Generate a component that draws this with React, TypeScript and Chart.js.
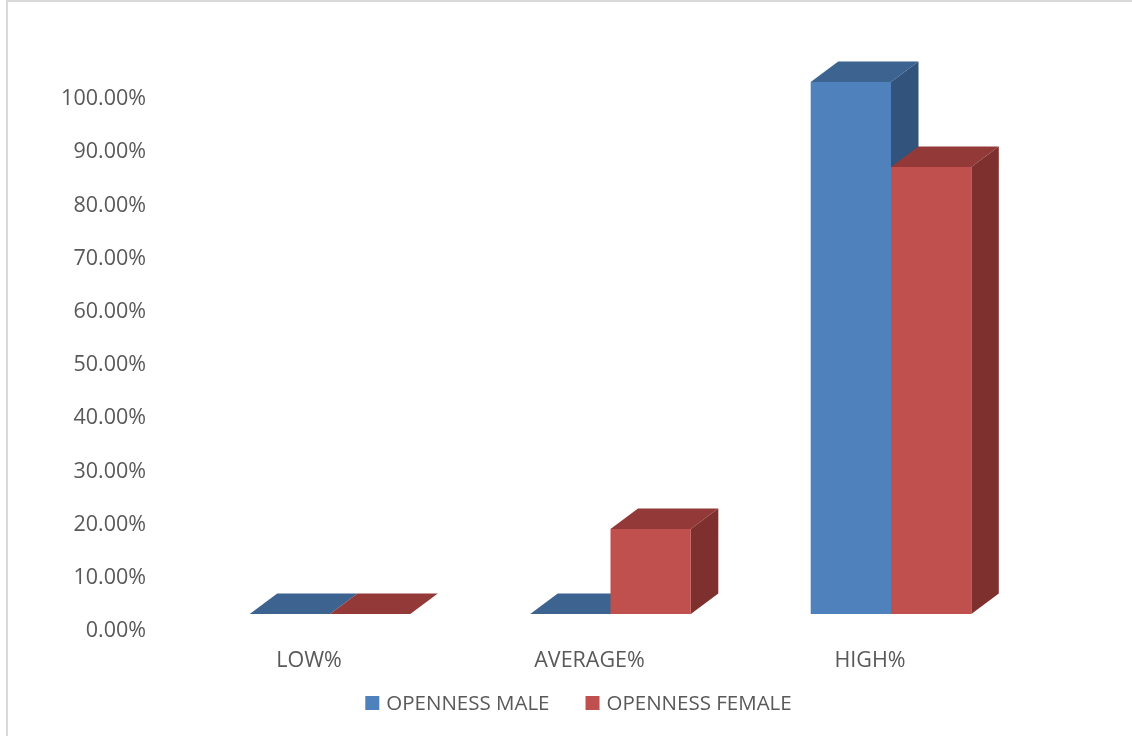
import React, { useEffect, useRef } from 'react';
import { Chart, registerables } from 'chart.js';

Chart.register(...registerables);

// Categories and series values (percent)
const categories = ['LOW%', 'AVERAGE%', 'HIGH%'];
const opennessMale = [0, 0, 100];
const opennessFemale = [0, 16, 84];
const seriesNames = ['OPENNESS MALE', 'OPENNESS FEMALE'];
const yTickValues = [0, 10, 20, 30, 40, 50, 60, 70, 80, 90, 100];

// Front / top / side shades of each series
const maleShades = { front: '#4F81BD', top: '#3D6391', side: '#32537C' };
const femaleShades = { front: '#C0504D', top: '#933937', side: '#7D302E' };

const FONT = "'Open Sans', sans-serif";
const TEXT = '#595959';

// Paints the top and right faces of each column behind the front faces
const depthPlugin = {
  id: 'depth3d',
  beforeDatasetsDraw(chart: any, _args: any, opts: any) {
    const ctx = chart.ctx;
    const dx = opts.dx;
    const dy = opts.dy;
    ctx.save();
    chart.data.datasets.forEach((ds: any, di: number) => {
      const meta = chart.getDatasetMeta(di);
      meta.data.forEach((bar: any) => {
        const l = bar.x - bar.width / 2;
        const r = bar.x + bar.width / 2;
        const t = bar.y;
        const b = bar.base;
        // top face
        ctx.fillStyle = ds.topColor;
        ctx.beginPath();
        ctx.moveTo(l, t);
        ctx.lineTo(l + dx, t + dy);
        ctx.lineTo(r + dx, t + dy);
        ctx.lineTo(r, t);
        ctx.closePath();
        ctx.fill();
        // right face
        if (b - t > 0.5) {
          ctx.fillStyle = ds.sideColor;
          ctx.beginPath();
          ctx.moveTo(r, t);
          ctx.lineTo(r + dx, t + dy);
          ctx.lineTo(r + dx, b + dy);
          ctx.lineTo(r, b);
          ctx.closePath();
          ctx.fill();
        }
      });
    });
    ctx.restore();
  },
};

// Outer frame of the chart
const framePlugin = {
  id: 'frame',
  beforeDraw(chart: any) {
    const ctx = chart.ctx;
    ctx.save();
    ctx.fillStyle = '#FFFFFF';
    ctx.fillRect(0, 0, chart.width, chart.height);
    ctx.fillStyle = '#D9D9D9';
    ctx.fillRect(6, 0, 2, chart.height);
    ctx.fillRect(6, 0, chart.width - 6, 2);
    ctx.restore();
  },
};

// Single-row legend with square swatches
const legendPlugin = {
  id: 'rowLegend',
  afterDraw(chart: any, _args: any, opts: any) {
    const ctx = chart.ctx;
    ctx.save();
    ctx.font = `${opts.fontSize}px ${FONT}`;
    ctx.textBaseline = 'middle';
    ctx.textAlign = 'left';
    const box = opts.box;
    const gap = opts.gap;
    const spacing = opts.spacing;
    const items = chart.data.datasets.map((ds: any) => ({
      label: ds.label,
      color: ds.backgroundColor,
      w: ctx.measureText(ds.label).width,
    }));
    const total =
      items.reduce((s: number, it: any) => s + box + gap + it.w, 0) +
      spacing * (items.length - 1);
    let x = opts.centerX - total / 2;
    const cy = opts.centerY;
    items.forEach((it: any) => {
      ctx.fillStyle = it.color;
      ctx.fillRect(x, cy - box / 2, box, box);
      ctx.fillStyle = TEXT;
      ctx.fillText(it.label, x + box + gap, cy + 1);
      x += box + gap + it.w + spacing;
    });
    ctx.restore();
  },
};

export default function App() {
  const canvasRef = useRef<HTMLCanvasElement | null>(null);

  useEffect(() => {
    if (!canvasRef.current) return;
    Chart.defaults.font.family = FONT;
    const chart = new Chart(canvasRef.current, {
      type: 'bar',
      data: {
        labels: categories,
        datasets: [
          {
            label: seriesNames[0],
            data: opennessMale,
            backgroundColor: maleShades.front,
            topColor: maleShades.top,
            sideColor: maleShades.side,
            borderWidth: 0,
          } as any,
          {
            label: seriesNames[1],
            data: opennessFemale,
            backgroundColor: femaleShades.front,
            topColor: femaleShades.top,
            sideColor: femaleShades.side,
            borderWidth: 0,
          } as any,
        ],
      },
      options: {
        responsive: false,
        animation: false,
        events: [],
        layout: { padding: { top: 82, right: 100.75, left: 0, bottom: 0 } },
        datasets: {
          bar: { categoryPercentage: 0.5725, barPercentage: 1 },
        },
        plugins: {
          legend: { display: false },
          tooltip: { enabled: false },
          depth3d: { dx: 27.5, dy: -20.5 },
          rowLegend: { fontSize: 20.5, box: 14, gap: 7, spacing: 36, centerX: 578.5, centerY: 703 },
        } as any,
        scales: {
          x: {
            grid: { display: false, drawTicks: false },
            border: { display: false },
            ticks: {
              color: TEXT,
              font: { size: 21.5, family: FONT },
              labelOffset: -21,
              padding: 34,
              maxRotation: 0,
              autoSkip: false,
            },
            afterFit: (scale: any) => {
              scale.height = 122;
            },
          },
          y: {
            min: 0,
            max: 100,
            grid: { display: false, drawTicks: false },
            border: { display: false },
            afterBuildTicks: (scale: any) => {
              scale.ticks = yTickValues.map((v) => ({ value: v }));
            },
            ticks: {
              color: TEXT,
              font: { size: 21.5, family: FONT },
              padding: 43.75,
              labelOffset: 17,
              autoSkip: false,
              callback: (v: any) => Number(v).toFixed(2) + '%',
            },
            afterFit: (scale: any) => {
              scale.width = 189.75;
            },
          },
        },
      },
      plugins: [framePlugin, depthPlugin, legendPlugin],
    });
    return () => chart.destroy();
  }, []);

  return (
    <div style={{ position: 'fixed', left: 0, top: 0, width: 1132, height: 736, background: '#fff' }}>
      <canvas ref={canvasRef} width={1132} height={736} style={{ display: 'block' }} />
    </div>
  );
}
